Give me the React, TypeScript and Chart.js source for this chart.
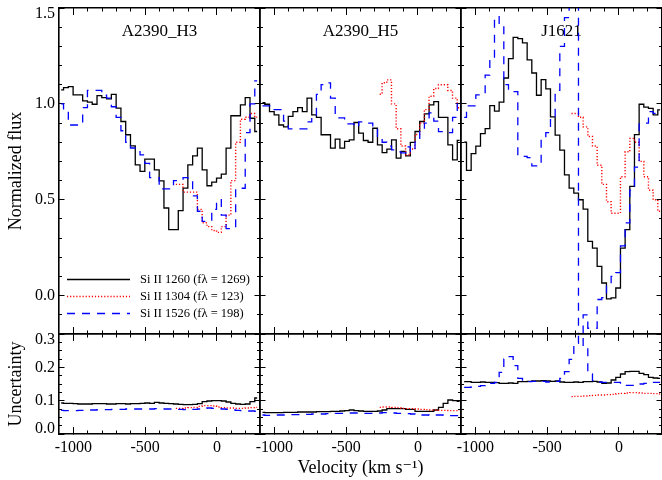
import React, { useEffect, useRef } from 'react';
import { Chart, registerables } from 'chart.js';

Chart.register(...registerables);

// ---------------- data ----------------
const X_MIN = -1100;
const X_MAX = 300;
const X_MAJOR_TICKS = [-1000, -500, 0];
const X_MINOR_TICKS = [-900, -800, -700, -600, -400, -300, -200, -100, 100, 200];

const FLUX_MIN = -0.2;
const FLUX_MAX = 1.5;
const FLUX_MAJOR_TICKS = [0, 0.5, 1.0, 1.5];
const FLUX_MINOR_TICKS = [-0.1, 0.1, 0.2, 0.3, 0.4, 0.6, 0.7, 0.8, 0.9, 1.1, 1.2, 1.3, 1.4];

const UNC_MIN = 0;
const UNC_MAX = 0.3;
const UNC_MAJOR_TICKS = [0, 0.1, 0.2, 0.3];
const UNC_MINOR_TICKS = [0.025, 0.05, 0.075, 0.125, 0.15, 0.175, 0.225, 0.25, 0.275];

const PANEL_TITLES = ['A2390_H3', 'A2390_H5', 'J1621'];
const SERIES_LABELS = ['Si II 1260 (fλ = 1269)', 'Si II 1304 (fλ = 123)', 'Si II 1526 (fλ = 198)'];
const Y_TITLES = ['Normalized flux', 'Uncertainty'];
const X_TITLE = 'Velocity (km s⁻¹)';

// velocity sampling (first bin centre, bin width) for each galaxy
const H3_V0 = -1085;
const H3_DV = 33.3;
const H3_V0_1304 = -286;
const H5_V0 = -1083;
const H5_DV = 32.7;
const H5_V0_1304 = -266;
const J_V0 = -1078;
const J_DV = 32.5;
const J_V0_1304 = -330.5;

// A2390_H3 normalized flux
const H3_FLUX_1260 = [1.073, 1.085, 1.09, 1.047, 1.047, 1.016, 1.009, 0.998, 1.043, 1.033, 1.026, 1.05, 0.978, 0.908, 0.839, 0.781, 0.682, 0.648, 0.712, 0.712, 0.656, 0.599, 0.457, 0.344, 0.344, 0.443, 0.561, 0.682, 0.729, 0.769, 0.656, 0.573, 0.592, 0.613, 0.634, 0.769, 0.938, 0.938, 0.995, 1.033, 0.925, 0.856];
const H3_FLUX_1304 = [0.58, 0.58, 0.54, 0.54, 0.54, 0.45, 0.38, 0.36, 0.34, 0.33, 0.36, 0.42, 0.6, 0.8, 0.92, 0.93, 0.95, 0.93];
const H3_FLUX_1526 = [1.0, 0.96, 0.89, 0.89, 0.89, 0.98, 1.07, 1.07, 1.07, 1.045, 1.03, 0.985, 0.93, 0.86, 0.8, 0.77, 0.765, 0.734, 0.69, 0.615, 0.615, 0.557, 0.557, 0.557, 0.6, 0.6, 0.615, 0.6, 0.52, 0.44, 0.387, 0.387, 0.45, 0.5, 0.42, 0.35, 0.35, 0.56, 0.56, 0.85, 1.0, 1.12];

// A2390_H5 normalized flux
const H5_FLUX_1260 = [1.007, 0.998, 0.96, 0.943, 0.89, 0.88, 0.935, 0.96, 0.98, 0.96, 1.03, 0.943, 0.93, 0.839, 0.839, 0.769, 0.816, 0.769, 0.804, 0.8125, 0.903, 0.847, 0.809, 0.8, 0.873, 0.786, 0.746, 0.764, 0.8125, 0.717, 0.752, 0.729, 0.799, 0.856, 0.908, 0.948, 0.995, 1.012, 0.93, 0.93, 0.786, 0.708, 0.81];
const H5_FLUX_1304 = [1.05, 1.11, 1.125, 1.0, 0.87, 0.78, 0.735, 0.765, 0.84, 0.9, 0.97, 1.04, 1.08, 1.1, 1.1, 1.07, 1.03, 0.98];
const H5_FLUX_1526 = [0.99, 0.99, 0.99, 0.97, 0.97, 0.91, 0.87, 0.87, 0.87, 0.87, 0.906, 0.93, 1.05, 1.1, 1.11, 1.03, 0.927, 0.927, 0.896, 0.896, 0.88, 0.906, 0.906, 0.9, 0.88, 0.83, 0.8, 0.78, 0.76, 0.75, 0.745, 0.776, 0.75, 0.8, 0.87, 0.9, 0.953, 0.91, 0.855, 0.85, 0.85, 0.93, 1.0];

// J1621 normalized flux
const J_FLUX_1260 = [0.8, 0.653, 0.741, 0.78, 0.845, 0.871, 0.991, 0.962, 1.009, 1.135, 1.236, 1.347, 1.34, 1.318, 1.23, 1.161, 1.045, 1.127, 1.078, 0.932, 0.837, 0.759, 0.63, 0.561, 0.535, 0.5, 0.451, 0.283, 0.248, 0.153, 0.066, -0.017, -0.012, 0.04, 0.248, 0.344, 0.57, 0.84, 0.998, 0.983, 0.977, 0.943, 0.969];
const J_FLUX_1304 = [0.95, 0.95, 0.93, 0.88, 0.83, 0.78, 0.68, 0.58, 0.49, 0.43, 0.43, 0.62, 0.75, 0.82, 0.8, 0.7, 0.62, 0.55, 0.5, 0.44];
const J_FLUX_1526 = [0.93, 0.99, 0.99, 1.047, 1.047, 1.15, 1.24, 1.455, 1.42, 1.1, 1.064, 1.064, 0.726, 0.726, 0.72, 0.677, 0.677, 0.825, 0.85, 0.93, 1.07, 1.3, 1.45, 1.6, 1.6, -0.3, -0.1, -0.17, -0.17, -0.02, -0.01, 0.05, 0.1, 0.12, 0.26, 0.38, 0.55, 0.67, 0.9, 0.9, 0.96, 0.95, 0.95];

// uncertainties
const H3_UNC_1260 = [0.093, 0.092, 0.092, 0.091, 0.09, 0.09, 0.09, 0.091, 0.091, 0.091, 0.09, 0.09, 0.091, 0.091, 0.09, 0.091, 0.091, 0.092, 0.093, 0.092, 0.095, 0.093, 0.092, 0.091, 0.09, 0.089, 0.088, 0.088, 0.089, 0.091, 0.097, 0.099, 0.1, 0.1, 0.099, 0.096, 0.092, 0.09, 0.089, 0.09, 0.097, 0.108];
const H3_UNC_1304 = [0.077, 0.077, 0.078, 0.079, 0.08, 0.083, 0.085, 0.085, 0.084, 0.081, 0.079, 0.078, 0.078, 0.077, 0.077, 0.078, 0.079, 0.08];
const H3_UNC_1526 = [0.071, 0.07, 0.07, 0.07, 0.071, 0.071, 0.072, 0.072, 0.073, 0.073, 0.073, 0.074, 0.074, 0.074, 0.075, 0.075, 0.075, 0.075, 0.075, 0.075, 0.076, 0.075, 0.075, 0.075, 0.074, 0.074, 0.073, 0.073, 0.074, 0.075, 0.077, 0.078, 0.077, 0.076, 0.075, 0.074, 0.072, 0.071, 0.07, 0.069, 0.069, 0.068];

const H5_UNC_1260 = [0.065, 0.064, 0.064, 0.064, 0.064, 0.065, 0.065, 0.065, 0.066, 0.066, 0.066, 0.066, 0.067, 0.067, 0.067, 0.068, 0.068, 0.069, 0.07, 0.072, 0.07, 0.069, 0.068, 0.068, 0.068, 0.069, 0.072, 0.076, 0.076, 0.076, 0.076, 0.074, 0.074, 0.068, 0.068, 0.068, 0.068, 0.072, 0.08, 0.092, 0.102, 0.1, 0.098];
const H5_UNC_1304 = [0.08, 0.081, 0.081, 0.08, 0.079, 0.077, 0.076, 0.076, 0.075, 0.074, 0.073, 0.072, 0.072, 0.071, 0.071, 0.07, 0.07, 0.07];
const H5_UNC_1526 = [0.057, 0.056, 0.056, 0.057, 0.057, 0.057, 0.058, 0.058, 0.058, 0.059, 0.059, 0.06, 0.06, 0.06, 0.061, 0.061, 0.062, 0.062, 0.063, 0.063, 0.063, 0.063, 0.062, 0.062, 0.062, 0.063, 0.064, 0.064, 0.063, 0.062, 0.062, 0.061, 0.06, 0.058, 0.057, 0.057, 0.056, 0.057, 0.057, 0.056, 0.055, 0.055, 0.055];

const J_UNC_1260 = [0.157, 0.157, 0.155, 0.155, 0.156, 0.155, 0.155, 0.154, 0.152, 0.152, 0.153, 0.152, 0.157, 0.157, 0.158, 0.159, 0.159, 0.16, 0.159, 0.158, 0.159, 0.156, 0.155, 0.155, 0.156, 0.155, 0.157, 0.157, 0.158, 0.156, 0.152, 0.153, 0.162, 0.17, 0.18, 0.187, 0.188, 0.188, 0.182, 0.178, 0.17, 0.168, 0.167];
const J_UNC_1304 = [0.112, 0.113, 0.113, 0.114, 0.115, 0.116, 0.117, 0.117, 0.118, 0.119, 0.121, 0.122, 0.123, 0.124, 0.124, 0.123, 0.122, 0.122, 0.121, 0.12];
const J_UNC_1526 = [0.14, 0.14, 0.142, 0.143, 0.145, 0.15, 0.152, 0.155, 0.185, 0.225, 0.232, 0.205, 0.167, 0.158, 0.157, 0.158, 0.157, 0.158, 0.156, 0.157, 0.158, 0.167, 0.187, 0.224, 0.272, 0.34, 0.258, 0.18, 0.16, 0.156, 0.155, 0.155, 0.155, 0.155, 0.15, 0.146, 0.146, 0.148, 0.15, 0.152, 0.155, 0.155, 0.155];

// ---------------- layout / style ----------------
const W = 662;
const H = 480;
const SERIF = "'Liberation Serif', 'Times New Roman', 'DejaVu Serif', serif";
const COLS = [[59, 260], [260, 461], [461, 663]];
const ROWS = [[8, 334], [334, 434]];

const STYLES = [
  { color: '#000000', width: 1.3, dash: [] as number[], order: 2 },
  { color: '#ff0000', width: 1.4, dash: [1.2, 1.9], order: 1 },
  { color: '#0000ff', width: 1.3, dash: [8, 7], order: 0 },
];

type Series = { v0: number; dv: number; vals: number[] };
type Panel = { col: number; row: number; series: Series[] };

const PANELS: Panel[] = [
  { col: 0, row: 0, series: [
    { v0: H3_V0, dv: H3_DV, vals: H3_FLUX_1260 },
    { v0: H3_V0_1304, dv: H3_DV, vals: H3_FLUX_1304 },
    { v0: H3_V0, dv: H3_DV, vals: H3_FLUX_1526 },
  ] },
  { col: 1, row: 0, series: [
    { v0: H5_V0, dv: H5_DV, vals: H5_FLUX_1260 },
    { v0: H5_V0_1304, dv: H5_DV, vals: H5_FLUX_1304 },
    { v0: H5_V0, dv: H5_DV, vals: H5_FLUX_1526 },
  ] },
  { col: 2, row: 0, series: [
    { v0: J_V0, dv: J_DV, vals: J_FLUX_1260 },
    { v0: J_V0_1304, dv: J_DV, vals: J_FLUX_1304 },
    { v0: J_V0, dv: J_DV, vals: J_FLUX_1526 },
  ] },
  { col: 0, row: 1, series: [
    { v0: H3_V0, dv: H3_DV, vals: H3_UNC_1260 },
    { v0: H3_V0_1304, dv: H3_DV, vals: H3_UNC_1304 },
    { v0: H3_V0, dv: H3_DV, vals: H3_UNC_1526 },
  ] },
  { col: 1, row: 1, series: [
    { v0: H5_V0, dv: H5_DV, vals: H5_UNC_1260 },
    { v0: H5_V0_1304, dv: H5_DV, vals: H5_UNC_1304 },
    { v0: H5_V0, dv: H5_DV, vals: H5_UNC_1526 },
  ] },
  { col: 2, row: 1, series: [
    { v0: J_V0, dv: J_DV, vals: J_UNC_1260 },
    { v0: J_V0_1304, dv: J_DV, vals: J_UNC_1304 },
    { v0: J_V0, dv: J_DV, vals: J_UNC_1526 },
  ] },
];

function toPoints(s: Series) {
  return s.vals.map((y, i) => ({ x: s.v0 + i * s.dv, y }));
}

const panelTextPlugin = {
  id: 'panelText',
  beforeDatasetsDraw(chart: any, _args: any, opts: any) {
    if (!opts || !opts.text) return;
    const { ctx, chartArea } = chart;
    ctx.save();
    ctx.font = `17px ${SERIF}`;
    ctx.fillStyle = '#000';
    ctx.textAlign = 'center';
    ctx.textBaseline = 'middle';
    ctx.fillText(opts.text, (chartArea.left + chartArea.right) / 2, chartArea.top + 24);
    ctx.restore();
  },
};

const lineLegendPlugin = {
  id: 'lineLegend',
  afterDatasetsDraw(chart: any, _args: any, opts: any) {
    if (!opts || !opts.show) return;
    const { ctx, chartArea } = chart;
    chart.data.datasets.forEach((ds: any, i: number) => {
      const y = chartArea.bottom - 54.5 + i * 17;
      ctx.save();
      ctx.strokeStyle = ds.borderColor;
      ctx.lineWidth = ds.borderWidth;
      ctx.setLineDash(ds.borderDash || []);
      ctx.beginPath();
      ctx.moveTo(chartArea.left + 8, y);
      ctx.lineTo(chartArea.left + 71, y);
      ctx.stroke();
      ctx.setLineDash([]);
      ctx.fillStyle = '#000';
      ctx.font = `12.5px ${SERIF}`;
      ctx.textAlign = 'left';
      ctx.textBaseline = 'middle';
      ctx.fillText(ds.label, chartArea.left + 81, y);
      ctx.restore();
    });
  },
};

function makeAxis(o: any) {
  return {
    type: 'linear',
    axis: o.axis,
    position: o.position,
    min: o.min,
    max: o.max,
    weight: o.weight,
    afterBuildTicks: (s: any) => {
      s.ticks = o.ticks.map((v: number) => ({ value: v }));
    },
    afterFit: (s: any) => {
      if (o.axis === 'x') s.height = o.size;
      else s.width = o.size;
      s.paddingLeft = 0;
      s.paddingRight = 0;
      s.paddingTop = 0;
      s.paddingBottom = 0;
    },
    ticks: {
      display: !!o.labels,
      autoSkip: false,
      maxRotation: 0,
      minRotation: 0,
      padding: o.padding ?? 0,
      font: o.font ?? { family: SERIF, size: 16 },
      color: '#000',
      callback: (v: any) => (o.labels ? o.labels(Number(v)) : ''),
    },
    grid: {
      display: true,
      drawOnChartArea: false,
      drawTicks: true,
      tickLength: -o.len,
      tickWidth: 1,
      tickColor: '#000',
    },
    border: { display: o.border, width: 1.6, color: '#000' },
    title: o.title ?? { display: false },
  };
}

function buildConfig(p: Panel): any {
  const [left, right] = COLS[p.col];
  const [top, bottom] = ROWS[p.row];
  const leftW = p.col === 0 ? left : 0;
  const bottomH = p.row === 1 ? H - bottom : 0;
  const yMin = p.row === 0 ? FLUX_MIN : UNC_MIN;
  const yMax = p.row === 0 ? FLUX_MAX : UNC_MAX;
  const yMajor = p.row === 0 ? FLUX_MAJOR_TICKS : UNC_MAJOR_TICKS;
  const yMinor = p.row === 0 ? FLUX_MINOR_TICKS : UNC_MINOR_TICKS;

  const yLabel = (v: number) => {
    const s = v.toFixed(1);
    if (Math.abs(v - yMax) < 1e-9) return ['', s];
    if (Math.abs(v - yMin) < 1e-9) return [s, ''];
    return s;
  };

  const xBase = { axis: 'x', min: X_MIN, max: X_MAX };
  const yBase = { axis: 'y', min: yMin, max: yMax };

  const scales: any = {
    x: makeAxis({
      ...xBase, position: 'bottom', ticks: X_MAJOR_TICKS, len: 7, weight: 1, size: bottomH, border: true,
      labels: p.row === 1 ? (v: number) => String(v) : null,
      padding: 11.4,
      font: { family: SERIF, size: 16 },
      title: p.row === 1 && p.col === 1
        ? { display: true, text: X_TITLE, color: '#000', font: { family: SERIF, size: 18 }, padding: { top: 0, bottom: 1.2 } }
        : { display: false },
    }),
    xm: makeAxis({ ...xBase, position: 'bottom', ticks: X_MINOR_TICKS, len: 3.5, weight: 0, size: 0, border: false }),
    xt: makeAxis({ ...xBase, position: 'top', ticks: X_MAJOR_TICKS, len: 7, weight: 1, size: 0, border: true }),
    xtm: makeAxis({ ...xBase, position: 'top', ticks: X_MINOR_TICKS, len: 3.5, weight: 0, size: 0, border: false }),
    y: makeAxis({
      ...yBase, position: 'left', ticks: yMajor, len: 5.5, weight: 1, size: leftW, border: true,
      labels: p.col === 0 ? yLabel : null,
      padding: 9.5,
      font: { family: SERIF, size: 16, lineHeight: 0.7 },
      title: p.col === 0
        ? { display: true, text: Y_TITLES[p.row], color: '#000', font: { family: SERIF, size: 18 }, padding: { top: 5, bottom: 0 } }
        : { display: false },
    }),
    ym: makeAxis({ ...yBase, position: 'left', ticks: yMinor, len: 3, weight: 0, size: 0, border: false }),
    yr: makeAxis({ ...yBase, position: 'right', ticks: yMajor, len: 5.5, weight: 1, size: 0, border: true }),
    yrm: makeAxis({ ...yBase, position: 'right', ticks: yMinor, len: 3, weight: 0, size: 0, border: false }),
  };

  const datasets = p.series.map((s, i) => ({
    label: SERIES_LABELS[i],
    data: toPoints(s),
    xAxisID: 'x',
    yAxisID: 'y',
    borderColor: STYLES[i].color,
    borderWidth: STYLES[i].width,
    borderDash: STYLES[i].dash,
    order: STYLES[i].order,
    stepped: 'middle',
    pointRadius: 0,
    fill: false,
    clip: 0,
  }));

  return {
    type: 'line',
    data: { datasets },
    options: {
      responsive: false,
      devicePixelRatio: 1,
      animation: false,
      events: [],
      layout: {
        autoPadding: false,
        padding: { left: left - leftW, right: W - right, top, bottom: H - bottom - bottomH },
      },
      scales,
      plugins: {
        legend: { display: false },
        title: { display: false },
        tooltip: { enabled: false },
        panelText: { text: p.row === 0 ? PANEL_TITLES[p.col] : '' },
        lineLegend: { show: p.row === 0 && p.col === 0 },
      },
    },
    plugins: [panelTextPlugin, lineLegendPlugin],
  };
}

export default function App() {
  const refs = useRef<(HTMLCanvasElement | null)[]>([]);

  useEffect(() => {
    const charts = PANELS.map((p, i) => new Chart(refs.current[i] as HTMLCanvasElement, buildConfig(p)));
    return () => {
      charts.forEach((c) => c.destroy());
    };
  }, []);

  return (
    <div style={{ position: 'absolute', left: 0, top: 0, width: W, height: H, background: '#fff', overflow: 'hidden' }}>
      {PANELS.map((_, i) => (
        <canvas
          key={i}
          ref={(el) => {
            refs.current[i] = el;
          }}
          width={W}
          height={H}
          style={{ position: 'absolute', left: 0, top: 0, width: W, height: H }}
        />
      ))}
    </div>
  );
}
